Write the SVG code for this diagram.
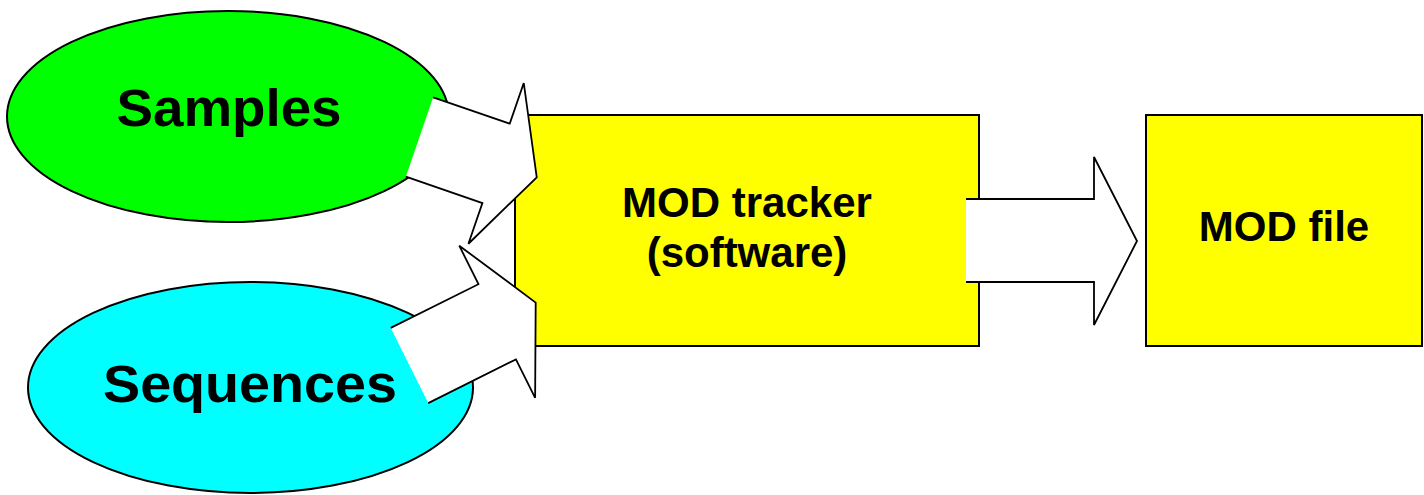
<svg xmlns="http://www.w3.org/2000/svg" width="1424" height="495" viewBox="0 0 1424 495">
<style>
.lbl{font-family:"Liberation Sans",Arial,sans-serif;font-weight:bold;fill:#000;text-anchor:middle}
.node{stroke:#000;stroke-width:2}
.afill{fill:#fff;stroke:none}
.aline{fill:none;stroke:#000;stroke-width:1.8;stroke-linejoin:miter}
</style>
<rect width="1424" height="495" fill="#fff"/>
<g id="samples">
<ellipse class="node" cx="228" cy="116.5" rx="221" ry="105.5" fill="#00ff00"/>
<text class="lbl" x="229" y="126" font-size="51" textLength="225" lengthAdjust="spacingAndGlyphs">Samples</text>
</g>
<g id="sequences">
<ellipse class="node" cx="250.5" cy="387.5" rx="222.5" ry="105.5" fill="#00ffff"/>
<text class="lbl" x="250" y="401.5" font-size="51" textLength="294" lengthAdjust="spacingAndGlyphs">Sequences</text>
</g>
<g id="tracker">
<rect class="node" x="515" y="115" width="464" height="231" fill="#ffff00"/>
<text class="lbl" x="747" y="217" font-size="42">MOD tracker</text>
<text class="lbl" x="747" y="267" font-size="42">(software)</text>
</g>
<g id="modfile">
<rect class="node" x="1146" y="115" width="276" height="231" fill="#ffff00"/>
<text class="lbl" x="1284" y="241" font-size="42">MOD file</text>
</g>
<g id="connectors">
<g transform="translate(419.5,137) rotate(19)">
<polygon class="afill" points="0,-42 81,-42 81,-85 124,0 81,85 81,42 0,42"/>
<polyline class="aline" points="0,-42 81,-42 81,-85 124,0 81,85 81,42 0,42"/>
</g>
<g transform="translate(409.5,365.5) rotate(-26.5)">
<polygon class="afill" points="0,-42 98,-42 98,-85 141,0 98,85 98,42 0,42"/>
<polyline class="aline" points="0,-42 98,-42 98,-85 141,0 98,85 98,42 0,42"/>
</g>
<polygon class="afill" points="966,199 1094,199 1094,157 1137,241 1094,325 1094,282 966,282"/>
<polyline class="aline" points="966,199 1094,199 1094,157 1137,241 1094,325 1094,282 966,282"/>
</g>
</svg>
